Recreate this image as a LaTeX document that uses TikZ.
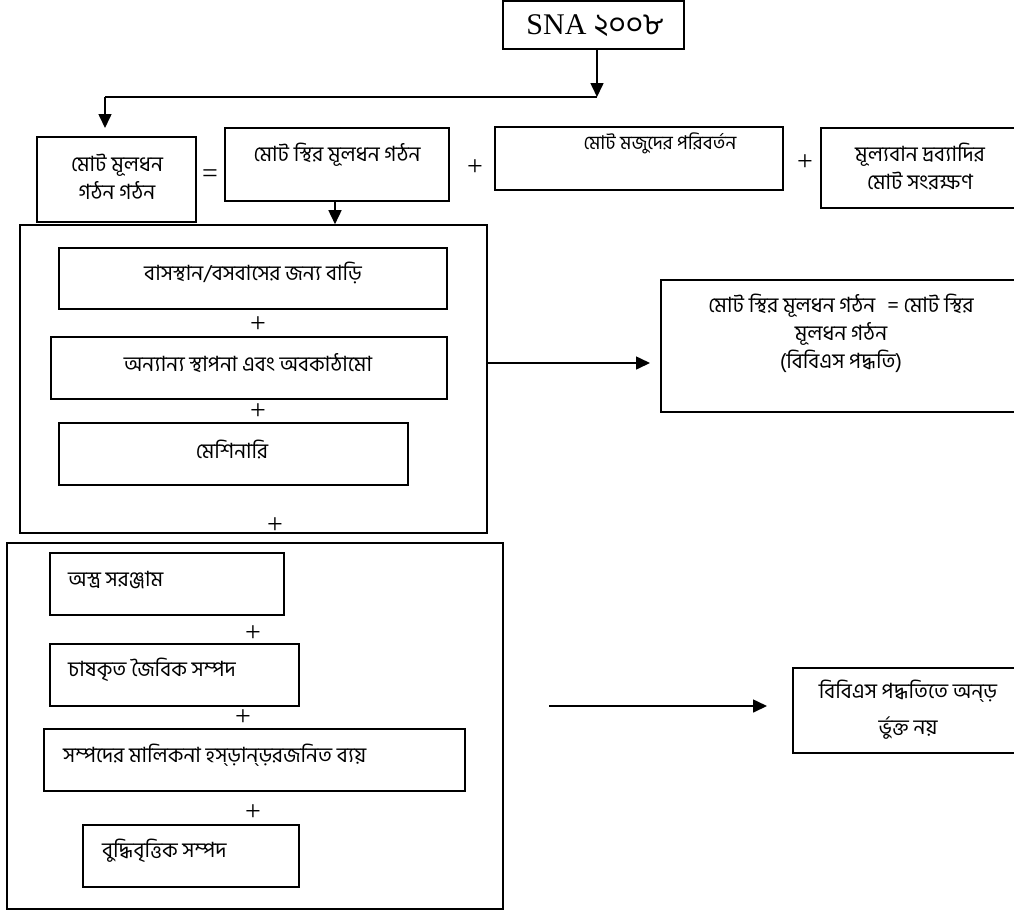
\documentclass[tikz,border=0pt]{standalone}
\usepackage{fontspec}
\setmainfont{Liberation Serif}
\newfontfamily\bn[Script=Bengali]{Hind Siliguri}
\usetikzlibrary{arrows.meta,fit}
\tikzset{
  box/.style={draw, line width=1.6pt, inner sep=0pt},
  arr/.style={line width=1.6pt, -{Triangle[length=14pt,width=13pt]}},
  ln/.style={line width=1.6pt},
  txt/.style={font=\bn\fontsize{21}{28}\selectfont, inner sep=0pt, align=center},
  sym/.style={font=\fontsize{28}{30}\selectfont, inner sep=0pt},
}
\begin{document}
\begin{tikzpicture}[x=1pt,y=-1pt]
\useasboundingbox (0,0) rectangle (1014,911);
% boxes
\node[box, fit={(503,1) (684,49)}] (sna) {};
\node[box, fit={(37,137) (196,222)}] (gross) {};
\node[box, fit={(225,128) (449,201)}] (fixed) {};
\node[box, fit={(495,127) (783,190)}] (inv) {};
\node[box, fit={(821,128) (1020,208)}] (val) {};
\node[box, fit={(20,225) (487,533)}] (big1) {};
\node[box, fit={(59,248) (447,309)}] (bas) {};
\node[box, fit={(51,337) (447,399)}] (oth) {};
\node[box, fit={(59,423) (408,485)}] (mach) {};
\node[box, fit={(661,280) (1020,412)}] (res1) {};
\node[box, fit={(7,543) (503,909)}] (big2) {};
\node[box, fit={(50,553) (284,615)}] (arms) {};
\node[box, fit={(50,644) (299,706)}] (bio) {};
\node[box, fit={(44,729) (465,791)}] (own) {};
\node[box, fit={(83,825) (299,887)}] (ip) {};
\node[box, fit={(793,668) (1020,753)}] (res2) {};
% texts
\node[inner sep=0pt, font=\fontsize{30}{34}\selectfont] (snat) at (595,26) {SNA {\bn ২০০৮}};
\node[txt] (grosst) at (117,177) {মোট মূলধন\\গঠন গঠন};
\node[txt] (fixedt) at (337,155) {মোট স্থির মূলধন গঠন};
\node[txt, font=\bn\fontsize{19}{28}\selectfont] (invt) at (660,143) {মোট মজুদের পরিবর্তন};
\node[txt] (valt) at (920,166) {মূল্যবান দ্রব্যাদির\\মোট সংরক্ষণ};
\node[txt] (bast) at (253,273) {বাসস্থান/বসবাসের জন্য বাড়ি};
\node[txt] (otht) at (248,363) {অন্যান্য স্থাপনা এবং অবকাঠামো};
\node[txt] (macht) at (232,449) {মেশিনারি};
\node[txt] (res1t) at (841,333) {মোট স্থির মূলধন গঠন\hspace{12pt}= মোট স্থির\\মূলধন গঠন\\(বিবিএস পদ্ধতি)};
\node[txt, anchor=west] (armst) at (68,580) {অস্ত্র সরঞ্জাম};
\node[txt, anchor=west] (biot) at (68,670) {চাষকৃত জৈবিক সম্পদ};
\node[txt, anchor=west] (ownt) at (63,755) {সম্পদের মালিকনা হস্ড়ান্ড়রজনিত ব্যয়};
\node[txt, anchor=west] (ipt) at (102,851) {বুদ্ধিবৃত্তিক সম্পদ};
\node[txt] (res2a) at (908,691) {বিবিএস পদ্ধতিতে অন্ড়};
\node[txt] (res2b) at (908,728) {র্ভুক্ত নয়};
% symbols
\node[sym] (eq1) at (210,176) {=};
\node[sym] (p1) at (475,168) {+};
\node[sym] (p2) at (805,163) {+};
\node[sym] (p3) at (258,325) {+};
\node[sym] (p4) at (258,412) {+};
\node[sym] (p5) at (275,526) {+};
\node[sym] (p6) at (253,634) {+};
\node[sym] (p7) at (243,718) {+};
\node[sym] (p8) at (253,813) {+};
% connectors
\coordinate (j1) at (597,97);
\coordinate (j2) at (105,97);
\coordinate (t1) at (105,128);
\draw[arr] (sna.south -| j1) -- (j1);
\draw[ln] (j1) -- (j2);
\draw[arr] (j2) -- (t1);
\draw[arr] (fixed.south -| 335,0) -- (big1.north -| 335,0);
\coordinate (a1) at (650,363);
\draw[arr] (big1.east |- a1) -- (a1);
\coordinate (b0) at (549,706);
\coordinate (b1) at (767,706);
\draw[arr] (b0) -- (b1);
\end{tikzpicture}
\end{document}
